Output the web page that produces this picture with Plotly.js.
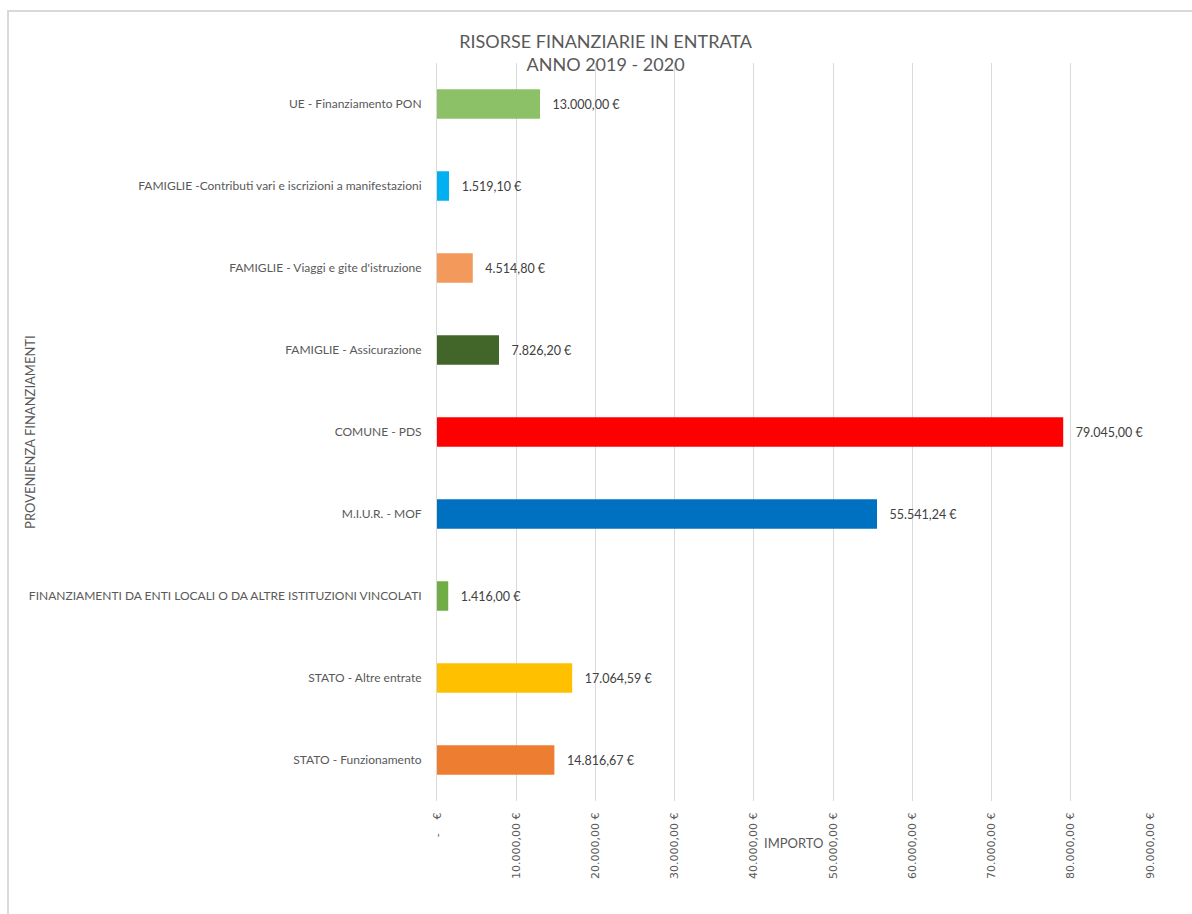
<!DOCTYPE html>
<html>
<head>
<meta charset="utf-8">
<script src="https://cdn.plot.ly/plotly-3.0.1.min.js"></script>
<style>
  html, body { margin: 0; padding: 0; background: #fff; overflow: hidden; }
  #chart { width: 1192px; height: 914px; }
  #frame { position: absolute; left: 7px; top: 10px; width: 1300px; height: 1000px;
           border-left: 2px solid #d9d9d9; border-top: 2px solid #d9d9d9; pointer-events: none; }
</style>
</head>
<body>
<div id="chart"></div>
<div id="frame"></div>
<script>
// Categories listed bottom to top (Plotly draws the first category at the bottom)
const categories = [
  "STATO - Funzionamento",
  "STATO - Altre entrate",
  "FINANZIAMENTI DA ENTI LOCALI O DA ALTRE ISTITUZIONI VINCOLATI",
  "M.I.U.R. - MOF",
  "COMUNE - PDS",
  "FAMIGLIE - Assicurazione",
  "FAMIGLIE - Viaggi e gite d'istruzione",
  "FAMIGLIE -Contributi vari e iscrizioni a manifestazioni",
  "UE - Finanziamento PON"
];
const values = [14816.67, 17064.59, 1416.00, 55541.24, 79045.00, 7826.20, 4514.80, 1519.10, 13000.00];
const barColors = ["#ED7D31", "#FFC000", "#70AD47", "#0070C0", "#FF0000", "#42662A", "#F2995B", "#00B0F0", "#8CC168"];
const tickValues = [0, 10000, 20000, 30000, 40000, 50000, 60000, 70000, 80000, 90000];
const tickLabels = ["-\u00A0\u00A0\u00A0\u00A0€", "10.000,00 €", "20.000,00 €", "30.000,00 €", "40.000,00 €",
                    "50.000,00 €", "60.000,00 €", "70.000,00 €", "80.000,00 €", "90.000,00 €"];

function fmtEuro(v) {
  const parts = v.toFixed(2).split(".");
  const intPart = parts[0].replace(/\B(?=(\d{3})+(?!\d))/g, ".");
  return intPart + "," + parts[1] + " €";
}
const labels = values.map(v => "\u00A0\u00A0\u00A0" + fmtEuro(v));

const FONT = "Lato, 'Open Sans', sans-serif";

const trace = {
  type: "bar",
  orientation: "h",
  y: categories,
  x: values,
  marker: { color: barColors },
  text: labels,
  textposition: "outside",
  cliponaxis: false,
  textfont: { family: FONT, size: 12.5, color: "#404040" },
  hoverinfo: "x+y"
};

const layout = {
  width: 1192,
  height: 914,
  margin: { l: 437, r: 42, t: 63, b: 113 },
  paper_bgcolor: "#ffffff",
  plot_bgcolor: "#ffffff",
  bargap: 0.64,
  showlegend: false,
  font: { family: FONT, color: "#595959" },
  title: {
    text: "RISORSE FINANZIARIE IN ENTRATA<br>ANNO 2019 - 2020",
    font: { family: FONT, size: 18, color: "#595959" },
    x: 0.508, xref: "container", xanchor: "center",
    y: 0.948, yref: "container", yanchor: "middle"
  },
  xaxis: {
    range: [0, 90000],
    tickvals: tickValues,
    ticktext: tickLabels,
    tickangle: -90,
    tickfont: { family: "'DejaVu Sans', sans-serif", size: 11, color: "#595959" },
    showgrid: true,
    gridcolor: "#d9d9d9",
    gridwidth: 1,
    zeroline: false,
    showline: false,
    ticks: "outside",
    ticklen: 6,
    tickcolor: "rgba(0,0,0,0)",
    fixedrange: true
  },
  yaxis: {
    type: "category",
    categoryorder: "array",
    categoryarray: categories,
    tickfont: { family: FONT, size: 12, color: "#595959" },
    showgrid: false,
    zeroline: false,
    showline: true,
    linecolor: "#d9d9d9",
    linewidth: 1,
    ticks: "outside",
    ticklen: 12,
    tickcolor: "rgba(0,0,0,0)",
    fixedrange: true
  },
  annotations: [
    {
      text: "IMPORTO", xref: "paper", yref: "paper", x: 0.5, y: -0.0569,
      xanchor: "center", yanchor: "middle", showarrow: false,
      font: { family: FONT, size: 13, color: "#595959" }
    },
    {
      text: "PROVENIENZA FINANZIAMENTI", xref: "paper", yref: "paper", x: -0.571, y: 0.5,
      xanchor: "center", yanchor: "middle", textangle: -90, showarrow: false,
      font: { family: FONT, size: 13, color: "#595959" }
    }
  ]
};

Plotly.newPlot("chart", [trace], layout, { displayModeBar: false, staticPlot: true });
</script>
</body>
</html>
